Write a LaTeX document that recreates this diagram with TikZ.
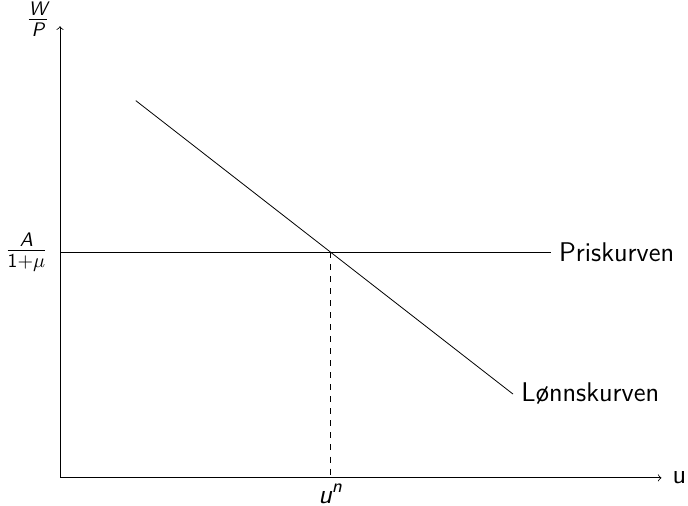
\documentclass[tikz,border=0pt]{standalone}
\usepackage{amsmath}
\renewcommand{\familydefault}{\sfdefault}
\usepackage{tikz}
\usetikzlibrary{positioning, calc}
\newcommand{\sv}[1]{\textit{#1}}
\tikzset{
  axis/.style={->, line width=0.4pt},
  curve/.style={line width=0.4pt},
  guide/.style={dashed, line width=0.4pt},
  lbl/.style={font=\sffamily\fontsize{13.5}{16}\selectfont, inner sep=3pt},
  frc/.style={font=\sffamily\fontsize{14}{17}\selectfont, inner sep=3pt},
}

\begin{document}
\begin{tikzpicture}
  \useasboundingbox (-1.053,-0.491) rectangle (11.02,8.386);
  % axes
  \coordinate (o) at (0,0);
  \node[inner sep=0pt] (ytop) at (0,7.95) {};
  \node[inner sep=0pt] (xend) at (10.58,0) {};
  \draw[axis] (o) -- (ytop);
  \draw[axis] (o) -- (xend);
  \node[frc, inner sep=0pt] (wp) at ($(ytop)+(-0.39,0.1)$) {$\frac{\sv{W}}{\sv{P}}$};
  \node[lbl, right=1pt of xend] (u) {u};
  % price curve
  \coordinate (pl) at (0,3.96);
  \coordinate (pr) at (8.61,3.96);
  \draw[curve] (pl) -- (pr);
  \node[frc, left=3pt of pl] (pval) {$\frac{\sv{A}}{\textsf{1}+\mu}$};
  \node[lbl, right=1pt of pr] (pk) {Priskurven};
  % wage curve
  \coordinate (ws) at (1.33,6.62);
  \coordinate (we) at (7.95,1.47);
  \draw[curve] (ws) -- (we);
  \node[lbl, right=1pt of we] (lk) {Lønnskurven};
  % natural rate
  \coordinate (e) at (4.75,3.96);
  \coordinate (un) at (4.75,0);
  \draw[guide] (e) -- (un);
  \node[lbl, below=0pt of un] (unl) {$\sv{u}^{\sv{n}}$};
\end{tikzpicture}
\end{document}
